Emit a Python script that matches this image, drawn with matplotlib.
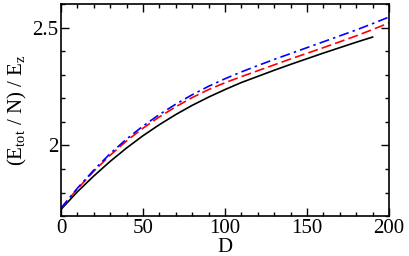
import numpy as np
import matplotlib
matplotlib.use("Agg")
import matplotlib.pyplot as plt
from matplotlib.ticker import MultipleLocator, FuncFormatter

plt.rcParams['font.family'] = ['Liberation Serif', 'DejaVu Serif']
plt.rcParams['mathtext.fontset'] = 'custom'
plt.rcParams['mathtext.rm'] = 'Liberation Serif'
plt.rcParams['mathtext.it'] = 'Liberation Serif'

# values
D_black = [0, 10, 20, 30, 40, 50, 60, 70, 80, 90, 100, 110, 120, 130, 140, 150, 160, 170, 180, 190]
E_black = [1.728, 1.803, 1.870, 1.932, 1.989, 2.041, 2.088, 2.131, 2.170, 2.205, 2.237, 2.267,
           2.293, 2.319, 2.344, 2.368, 2.392, 2.415, 2.438, 2.46]

D_full = [0, 10, 20, 30, 40, 50, 60, 70, 80, 90, 100, 110, 120, 130, 140, 150, 160, 170, 180, 190, 200]
E_red = [1.733, 1.815, 1.890, 1.958, 2.019, 2.073, 2.121, 2.164, 2.203, 2.237, 2.266, 2.292,
         2.317, 2.342, 2.367, 2.391, 2.415, 2.44, 2.465, 2.492, 2.52]
E_blue = [1.733, 1.818, 1.895, 1.965, 2.027, 2.082, 2.131, 2.175, 2.215, 2.251, 2.283, 2.312,
          2.339, 2.365, 2.39, 2.415, 2.44, 2.465, 2.49, 2.517, 2.545]

fig = plt.figure(figsize=(4.09, 2.56), dpi=100)
ax = fig.add_axes([0.149, 0.156, 0.802, 0.828])

ax.plot(D_black, E_black, color='black', lw=1.2)
ax.plot(D_full, E_red, color='red', lw=1.2, ls=(0, (6, 2.5)))
ax.plot(D_full, E_blue, color='blue', lw=1.2, ls=(0, (6, 2.5, 1.5, 2.5)))

ax.set_xlim(0, 200)
ax.set_ylim(1.7, 2.6)
ax.xaxis.set_major_locator(MultipleLocator(50))
ax.xaxis.set_minor_locator(MultipleLocator(10))
ax.yaxis.set_major_locator(MultipleLocator(0.5))
ax.yaxis.set_minor_locator(MultipleLocator(0.1))
ax.yaxis.set_major_formatter(FuncFormatter(lambda v, p: '%g' % v))

ax.tick_params(which='both', direction='in', top=True, right=True, labelsize=15, width=1.0)
ax.tick_params(which='major', length=6, pad=2)
ax.tick_params(which='minor', length=3)
for s in ax.spines.values():
    s.set_linewidth(1.2)

ax.set_xlabel('D', fontsize=15, labelpad=0)
ax.set_ylabel(r'(E$_{\rm tot}$ / N) / E$_{\rm z}$', fontsize=15, labelpad=2)

fig.savefig('out.png', dpi=100)
